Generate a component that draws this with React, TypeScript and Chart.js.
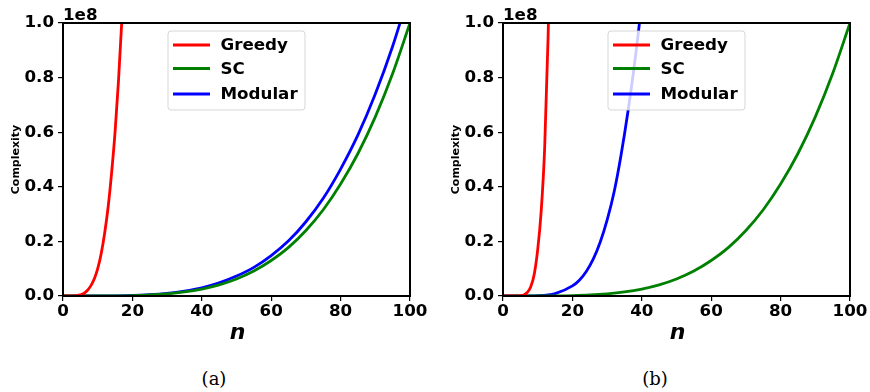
import React, { useEffect, useRef } from "react";
import { Chart, registerables } from "chart.js";

Chart.register(...registerables);

// ---------- data ----------
const xTicks = [0, 20, 40, 60, 80, 100];
const yTickLabels = ["0.0", "0.2", "0.4", "0.6", "0.8", "1.0"];
const seriesNames = ["Greedy", "SC", "Modular"];
const seriesColors = ["#ff0000", "#008000", "#0000ff"];
const captions = ["(a)", "(b)"];

// panel (a)
const greedyN_a = [0, 1, 2, 3, 4, 5, 6, 7, 8, 9, 10, 11, 12, 13, 14, 15, 16, 17, 18];
const greedyY_a = [0, 0, 1e4, 5e4, 1.5e5, 4e5, 9e5, 2.0e6, 3.7e6, 6.2e6, 1.0e7, 1.55e7, 2.3e7, 3.25e7, 4.5e7, 6.0e7, 7.9e7, 1.02e8, 1.28e8];

const scN = [0, 5, 10, 15, 20, 25, 30, 35, 40, 45, 50, 55, 60, 65, 70, 75, 80, 85, 90, 95, 100];
const scY_a = [0, 600, 1.0e4, 5.1e4, 1.6e5, 3.9e5, 8.1e5, 1.5e6, 2.56e6, 4.1e6, 6.25e6, 9.15e6, 1.30e7, 1.78e7, 2.40e7, 3.16e7, 4.10e7, 5.22e7, 6.56e7, 8.15e7, 1.0e8];

const modN_a = [0, 5, 10, 15, 20, 25, 30, 35, 40, 45, 50, 55, 60, 65, 70, 75, 80, 85, 90, 95, 100];
const modY_a = [0, 800, 1.3e4, 6.5e4, 2.0e5, 4.8e5, 9.8e5, 1.8e6, 3.0e6, 4.8e6, 7.3e6, 1.05e7, 1.48e7, 2.02e7, 2.72e7, 3.58e7, 4.65e7, 5.9e7, 7.4e7, 9.15e7, 1.12e8];

// panel (b)
const greedyN_b = [0, 1, 2, 3, 4, 5, 6, 7, 8, 9, 10, 11, 12, 13, 14];
const greedyY_b = [0, 0, 0, 0, 2e4, 1e5, 4e5, 1.3e6, 3.4e6, 8.0e6, 1.7e7, 3.1e7, 5.4e7, 9.5e7, 1.55e8];

const scY_b = [0, 600, 1.0e4, 5.1e4, 1.6e5, 3.9e5, 8.1e5, 1.5e6, 2.56e6, 4.1e6, 6.25e6, 9.15e6, 1.30e7, 1.78e7, 2.40e7, 3.16e7, 4.10e7, 5.22e7, 6.56e7, 8.15e7, 1.0e8];

const modN_b = [0, 5, 10, 15, 20, 22, 24, 26, 28, 30, 32, 34, 36, 38, 40, 42];
const modY_b = [0, 4e3, 1.2e5, 9e5, 3.7e6, 5.8e6, 9.0e6, 1.35e7, 1.97e7, 2.78e7, 3.8e7, 5.15e7, 6.75e7, 8.6e7, 1.08e8, 1.36e8];

const panels = [
  { series: [[greedyN_a, greedyY_a], [scN, scY_a], [modN_a, modY_a]] },
  { series: [[greedyN_b, greedyY_b], [scN, scY_b], [modN_b, modY_b]] },
];

const FONT = "'DejaVu Sans', sans-serif";
const FS = 16.7;
const LW = 2.8;

const overlayPlugin = {
  id: "overlay",
  afterDatasetsDraw(chart: any) {
    const { ctx, chartArea } = chart;
    const { left, top, right, bottom } = chartArea;
    ctx.save();
    // frame
    ctx.strokeStyle = "#000";
    ctx.lineWidth = 2;
    ctx.strokeRect(left, top, right - left, bottom - top);

    // legend
    const lx = left + 105;
    const ly = top + 8;
    const lw = 137;
    const lh = 79;
    const r = 3;
    ctx.beginPath();
    ctx.moveTo(lx + r, ly);
    ctx.lineTo(lx + lw - r, ly);
    ctx.quadraticCurveTo(lx + lw, ly, lx + lw, ly + r);
    ctx.lineTo(lx + lw, ly + lh - r);
    ctx.quadraticCurveTo(lx + lw, ly + lh, lx + lw - r, ly + lh);
    ctx.lineTo(lx + r, ly + lh);
    ctx.quadraticCurveTo(lx, ly + lh, lx, ly + lh - r);
    ctx.lineTo(lx, ly + r);
    ctx.quadraticCurveTo(lx, ly, lx + r, ly);
    ctx.closePath();
    ctx.fillStyle = "rgba(255,255,255,0.8)";
    ctx.fill();
    ctx.strokeStyle = "rgba(204,204,204,0.8)";
    ctx.lineWidth = 1;
    ctx.stroke();

    const rows = [22, 45.5, 71];
    ctx.font = `bold ${FS}px ${FONT}`;
    ctx.textBaseline = "middle";
    ctx.textAlign = "left";
    seriesNames.forEach((name, i) => {
      const yy = top + rows[i];
      ctx.strokeStyle = seriesColors[i];
      ctx.lineWidth = LW;
      ctx.beginPath();
      ctx.moveTo(left + 110, yy);
      ctx.lineTo(left + 147, yy);
      ctx.stroke();
      ctx.fillStyle = "#000";
      ctx.fillText(name, left + 157.5, yy + 1);
    });

    // offset text
    ctx.font = `bold ${FS}px ${FONT}`;
    ctx.textBaseline = "alphabetic";
    ctx.textAlign = "left";
    ctx.fillStyle = "#000";
    ctx.fillText("1e8", left, top - 3);

    // y title
    ctx.save();
    ctx.translate(left - 47, (top + bottom) / 2);
    ctx.rotate(-Math.PI / 2);
    ctx.font = `bold 11px ${FONT}`;
    ctx.textAlign = "center";
    ctx.textBaseline = "middle";
    ctx.fillText("Complexity", 0, 0);
    ctx.restore();

    // x title
    ctx.font = `italic bold 22px ${FONT}`;
    ctx.textAlign = "center";
    ctx.textBaseline = "alphabetic";
    ctx.fillText("n", (left + right) / 2 + 1, 339);
    ctx.restore();
  },
};

function makeConfig(p: any) {
  return {
    type: "line",
    data: {
      datasets: p.series.map((s: any, i: number) => ({
        label: seriesNames[i],
        data: s[0].map((n: number, k: number) => ({ x: n, y: s[1][k] })),
        borderColor: seriesColors[i],
        borderWidth: LW,
        pointRadius: 0,
        fill: false,
        cubicInterpolationMode: "monotone",
      })),
    },
    options: {
      animation: false,
      responsive: false,
      events: [],
      layout: { padding: { left: 0, right: 25, top: 23, bottom: 0 } },
      plugins: {
        legend: { display: false },
        tooltip: { enabled: false },
        title: { display: false },
      },
      scales: {
        x: {
          type: "linear",
          min: 0,
          max: 100,
          afterBuildTicks: (scale: any) => {
            scale.ticks = xTicks.map((v) => ({ value: v }));
          },
          afterFit: (scale: any) => {
            scale.height = 49;
          },
          ticks: {
            color: "#000",
            font: { family: FONT, size: FS, weight: "bold" },
            padding: 1,
            maxRotation: 0,
            autoSkip: false,
            callback: (v: any) => String(v),
          },
          grid: {
            display: true,
            drawOnChartArea: false,
            drawTicks: true,
            tickLength: 5,
            color: "#000",
            lineWidth: 1.2,
          },
          border: { display: false },
        },
        y: {
          type: "linear",
          min: 0,
          max: 1e8,
          afterBuildTicks: (scale: any) => {
            scale.ticks = yTickLabels.map((_, i) => ({ value: i * 2e7 }));
          },
          afterFit: (scale: any) => {
            scale.width = 63;
          },
          ticks: {
            color: "#000",
            font: { family: FONT, size: FS, weight: "bold" },
            padding: 4,
            autoSkip: false,
            callback: (_v: any, i: number) => yTickLabels[i],
          },
          grid: {
            display: true,
            drawOnChartArea: false,
            drawTicks: true,
            tickLength: 5,
            color: "#000",
            lineWidth: 1.2,
          },
          border: { display: false },
        },
      },
    },
    plugins: [overlayPlugin],
  };
}

export default function App() {
  const refA = useRef<HTMLCanvasElement | null>(null);
  const refB = useRef<HTMLCanvasElement | null>(null);

  useEffect(() => {
    document.body.style.margin = "0";
    const charts: Chart[] = [];
    [refA, refB].forEach((ref, i) => {
      if (ref.current) {
        charts.push(new Chart(ref.current, makeConfig(panels[i]) as any));
      }
    });
    return () => charts.forEach((c) => c.destroy());
  }, []);

  const capStyle = (cx: number): React.CSSProperties => ({
    position: "absolute",
    left: cx - 40,
    width: 80,
    top: 368,
    textAlign: "center",
    fontFamily: "'DejaVu Serif', 'Liberation Serif', serif",
    fontSize: 18,
    lineHeight: "22px",
    color: "#000",
  });

  return (
    <div style={{ position: "relative", width: 870, height: 392, background: "#fff", overflow: "hidden" }}>
      <canvas ref={refA} width={435} height={345} style={{ position: "absolute", left: 0, top: 0, width: 435, height: 345 }} />
      <canvas ref={refB} width={435} height={345} style={{ position: "absolute", left: 440, top: 0, width: 435, height: 345 }} />
      <div style={capStyle(214)}>{captions[0]}</div>
      <div style={capStyle(655)}>{captions[1]}</div>
    </div>
  );
}
